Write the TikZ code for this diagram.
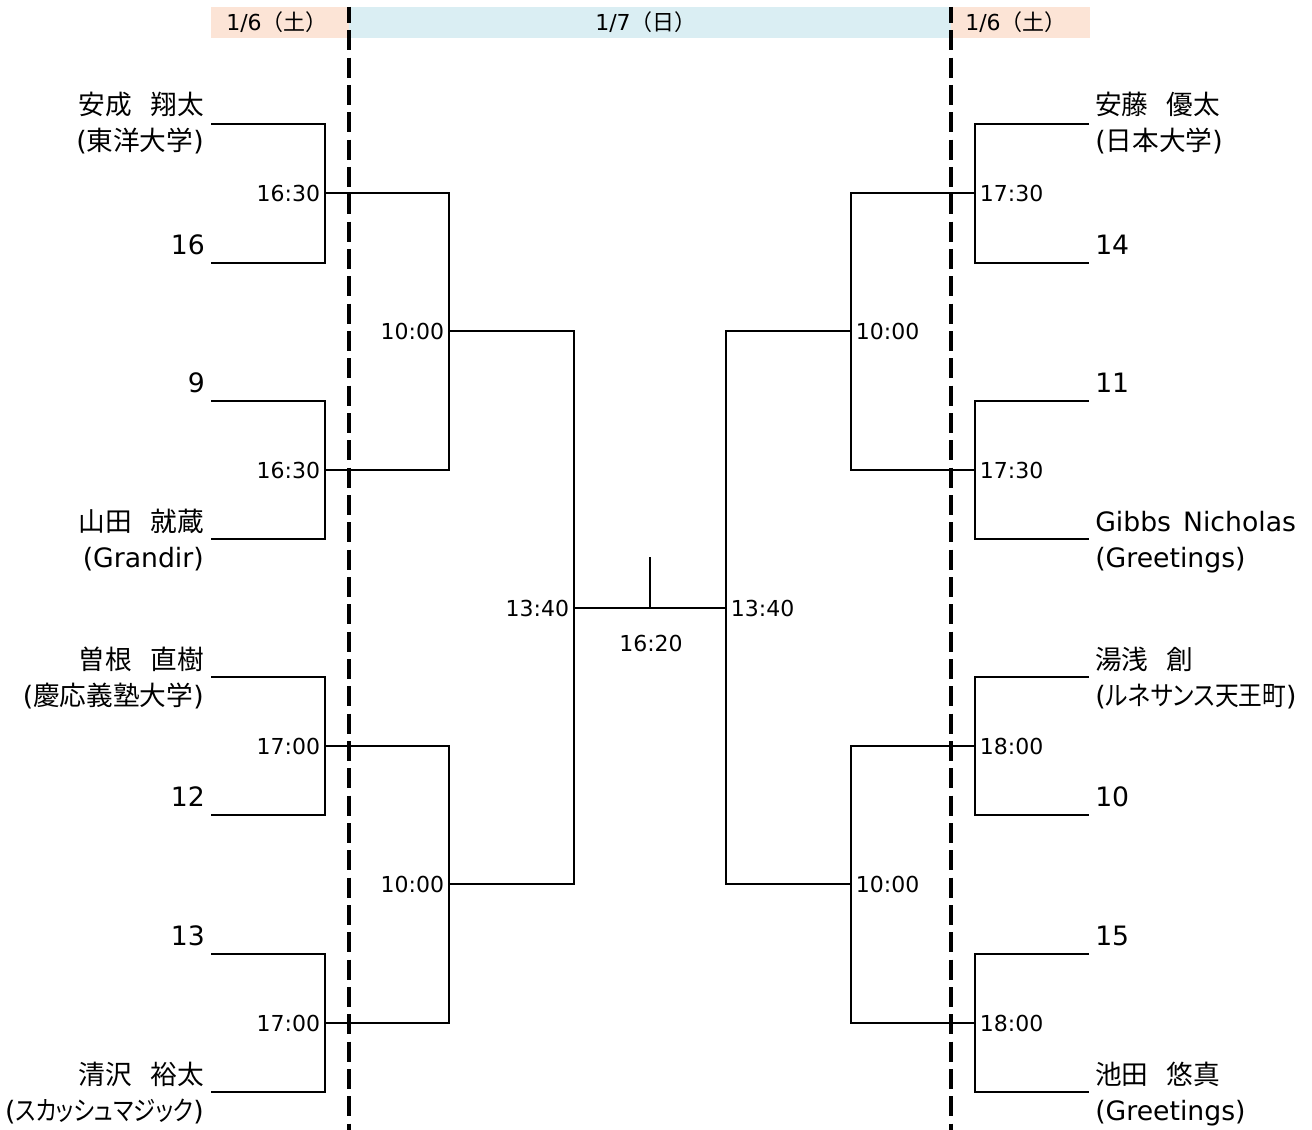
\documentclass[tikz,border=0pt]{standalone}
\usepackage{fontspec}
\setmainfont{DejaVu Sans}
\newfontfamily\jp{Noto Sans CJK JP}[RawFeature=+palt]
\newfontfamily\jpn{Noto Sans CJK JP}[RawFeature=+palt, FakeStretch=0.89]
\newfontfamily\jpm{Noto Sans CJK JP}[RawFeature=+palt, FakeStretch=0.84]
\newfontfamily\jpf{Noto Sans CJK JP}
\newcommand\ngap{\hspace{0.68em}}
\definecolor{peach}{HTML}{FCE4D6}
\definecolor{lblue}{HTML}{DAEEF3}
\begin{document}
\begin{tikzpicture}[x=0.75pt,y=-0.75pt,
  br/.style={line width=1.5pt, line join=miter},
  daydiv/.style={line width=3.5pt, dash pattern=on 15pt off 5.5pt, dash phase=3pt},
  hdr/.style={font=\fontsize{16.5}{20}\selectfont, inner sep=0pt},
  tm/.style={font=\fontsize{16.5}{20}\selectfont, inner sep=0pt},
  nmL/.style={font=\fontsize{20}{27}\selectfont, inner sep=0pt, align=right, anchor=base east},
  nmR/.style={font=\fontsize{20}{27}\selectfont, inner sep=0pt, align=left, anchor=base west},
  numL/.style={font=\fontsize{20}{27}\selectfont, inner sep=0pt, anchor=east},
  numR/.style={font=\fontsize{20}{27}\selectfont, inner sep=0pt, anchor=west}]
\useasboundingbox (0,0) rectangle (1312,1130);
% header bands
\fill[peach] (211,7) rectangle (349,38);
\fill[lblue] (349,7) rectangle (951,38);
\fill[peach] (951,7) rectangle (1090,38);
\node[hdr] (h1) at (277,22) {1/6{\jpf （土）}};
\node[hdr] (h2) at (646,22) {1/7{\jpf （日）}};
\node[hdr] (h3) at (1016,22) {1/6{\jpf （土）}};
% ---------- coordinates: left ----------
\coordinate (pL1) at (211,124); \coordinate (pL2) at (211,263);
\coordinate (pL3) at (211,401); \coordinate (pL4) at (211,539);
\coordinate (pL5) at (211,677); \coordinate (pL6) at (211,815);
\coordinate (pL7) at (211,954); \coordinate (pL8) at (211,1092);
\coordinate (mL1) at (325,193); \coordinate (mL2) at (325,470);
\coordinate (mL3) at (325,746); \coordinate (mL4) at (325,1023);
\coordinate (qL1) at (449,331); \coordinate (qL2) at (449,884);
\coordinate (sL) at (574,608);
% ---------- coordinates: right ----------
\coordinate (pR1) at (1089,124); \coordinate (pR2) at (1089,263);
\coordinate (pR3) at (1089,401); \coordinate (pR4) at (1089,539);
\coordinate (pR5) at (1089,677); \coordinate (pR6) at (1089,815);
\coordinate (pR7) at (1089,954); \coordinate (pR8) at (1089,1092);
\coordinate (mR1) at (975,193); \coordinate (mR2) at (975,470);
\coordinate (mR3) at (975,746); \coordinate (mR4) at (975,1023);
\coordinate (qR1) at (851,331); \coordinate (qR2) at (851,884);
\coordinate (sR) at (726,608);
\coordinate (fin) at (650,608); \coordinate (finTop) at (650,557);
% ---------- brackets ----------
\draw[br] (pL1) -| (mL1) |- (pL2);
\draw[br] (pL3) -| (mL2) |- (pL4);
\draw[br] (pL5) -| (mL3) |- (pL6);
\draw[br] (pL7) -| (mL4) |- (pL8);
\draw[br] (mL1) -| (qL1) |- (mL2);
\draw[br] (mL3) -| (qL2) |- (mL4);
\draw[br] (qL1) -| (sL) |- (qL2);
\draw[br] (pR1) -| (mR1) |- (pR2);
\draw[br] (pR3) -| (mR2) |- (pR4);
\draw[br] (pR5) -| (mR3) |- (pR6);
\draw[br] (pR7) -| (mR4) |- (pR8);
\draw[br] (mR1) -| (qR1) |- (mR2);
\draw[br] (mR3) -| (qR2) |- (mR4);
\draw[br] (qR1) -| (sR) |- (qR2);
\draw[br] (sL) -- (sR);
\draw[br] (fin) -- (finTop);
% ---------- day dividers ----------
\coordinate (dL0) at (349,7); \coordinate (dL1) at (349,1130);
\coordinate (dR0) at (951,7); \coordinate (dR1) at (951,1130);
\draw[daydiv] (dL0) -- (dL1);
\draw[daydiv] (dR0) -- (dR1);
% ---------- times ----------
\node[tm, anchor=east, xshift=-3.5pt] (tL1) at (mL1) {16:30};
\node[tm, anchor=east, xshift=-3.5pt] (tL2) at (mL2) {16:30};
\node[tm, anchor=east, xshift=-3.5pt] (tL3) at (mL3) {17:00};
\node[tm, anchor=east, xshift=-3.5pt] (tL4) at (mL4) {17:00};
\node[tm, anchor=east, xshift=-3.5pt] (uL1) at (qL1) {10:00};
\node[tm, anchor=east, xshift=-3.5pt] (uL2) at (qL2) {10:00};
\node[tm, anchor=east, xshift=-3.5pt] (vL) at (sL) {13:40};
\node[tm, anchor=west, xshift=3.5pt] (tR1) at (mR1) {17:30};
\node[tm, anchor=west, xshift=3.5pt] (tR2) at (mR2) {17:30};
\node[tm, anchor=west, xshift=3.5pt] (tR3) at (mR3) {18:00};
\node[tm, anchor=west, xshift=3.5pt] (tR4) at (mR4) {18:00};
\node[tm, anchor=west, xshift=3.5pt] (uR1) at (qR1) {10:00};
\node[tm, anchor=west, xshift=3.5pt] (uR2) at (qR2) {10:00};
\node[tm, anchor=west, xshift=3.5pt] (vR) at (sR) {13:40};
\node[tm] (vF) at (651,643) {16:20};
% ---------- players left ----------
\node[nmL] (nL1) at (204,151) {{\jp 安成\ngap 翔太}\\({\jp 東洋大学})};
\node[numL] (nL2) at (205,245) {16};
\node[numL] (nL3) at (205,383) {9};
\node[nmL] (nL4) at (204,567) {{\jp 山田\ngap 就蔵}\\(Grandir)};
\node[nmL] (nL5) at (204,705) {{\jp 曽根\ngap 直樹}\\({\jp 慶応義塾大学})};
\node[numL] (nL6) at (205,797) {12};
\node[numL] (nL7) at (205,936) {13};
\node[nmL] (nL8) at (204,1120) {{\jp 清沢\ngap 裕太}\\({\jpm スカッシュマジック})};
% ---------- players right ----------
\node[nmR] (nR1) at (1095,151) {{\jp 安藤\ngap 優太}\\({\jp 日本大学})};
\node[numR] (nR2) at (1095,245) {14};
\node[numR] (nR3) at (1095,383) {11};
\node[nmR] (nR4) at (1095,567) {Gibbs\hspace{0.45em}Nicholas\\(Greetings)};
\node[nmR] (nR5) at (1095,705) {{\jp 湯浅\ngap 創}\\({\jpn ルネサンス天王町})};
\node[numR] (nR6) at (1095,797) {10};
\node[numR] (nR7) at (1095,936) {15};
\node[nmR] (nR8) at (1095,1120) {{\jp 池田\ngap 悠真}\\(Greetings)};
\end{tikzpicture}
\end{document}
